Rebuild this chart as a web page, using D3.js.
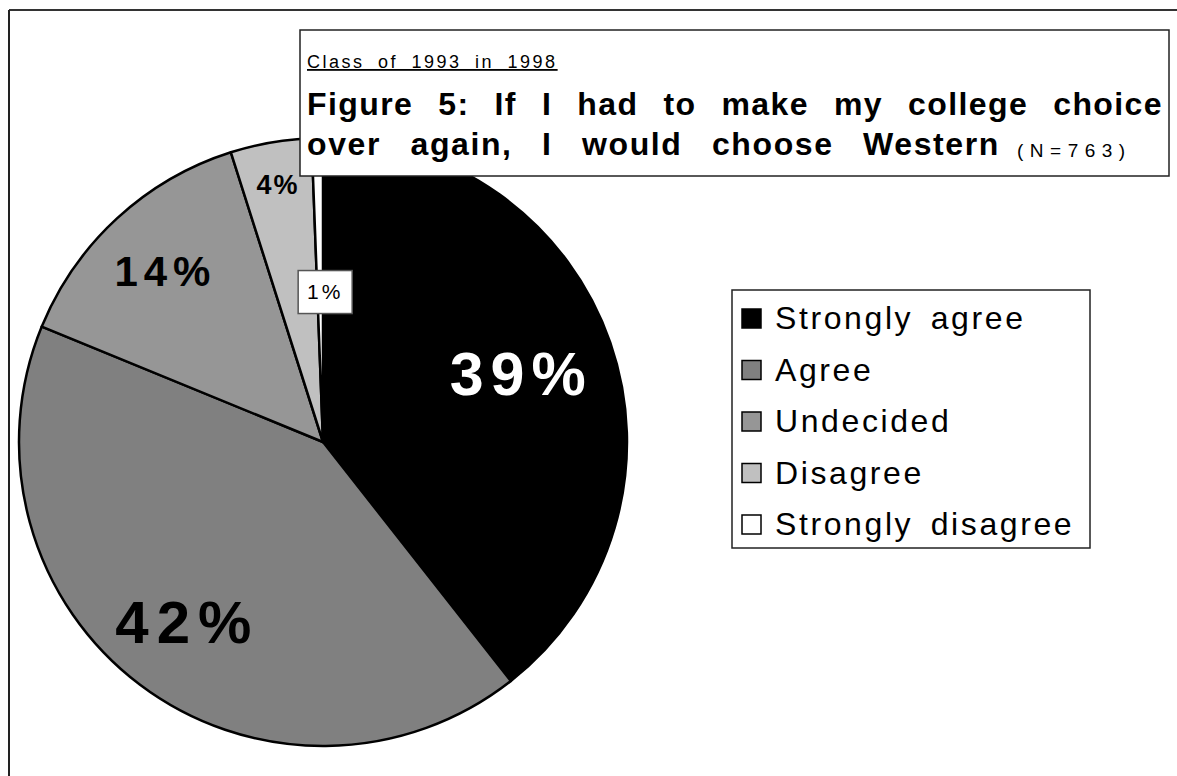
<!DOCTYPE html>
<html><head><meta charset="utf-8">
<script src="https://cdn.jsdelivr.net/npm/d3@7"></script>
<style>
html,body{margin:0;padding:0;background:#fff;}
svg{display:block;font-family:"Liberation Sans",Arial,Helvetica,sans-serif;}
</style></head>
<body>
<svg id="chart" width="1177" height="776"></svg>
<script>
// ---- data ----
const categories = ["Strongly agree", "Agree", "Undecided", "Disagree", "Strongly disagree"];
const values = [39.4, 41.8, 13.9, 4.3, 0.6];
const colors = ["#000000", "#808080", "#969696", "#c0c0c0", "#ffffff"];
const labels = ["39%", "42%", "14%", "4%", "1%"];
const subtitle = "Class of 1993 in 1998";
const titleLine1 = "Figure 5: If I had to make my college choice";
const titleLine2 = "over again, I would choose Western";
const titleNote = "(N=763)";

const svg = d3.select("#chart");

// outer frame (top and left visible)
svg.append("line").attr("x1", 9).attr("y1", 10).attr("x2", 1177).attr("y2", 10)
  .attr("stroke", "#333").attr("stroke-width", 2);
svg.append("line").attr("x1", 9).attr("y1", 10).attr("x2", 9).attr("y2", 776)
  .attr("stroke", "#222").attr("stroke-width", 2);

// pie
const cx = 323, cy = 442, R = 304;
const pie = d3.pie().sort(null).value(d => d)(values);
const arc = d3.arc().innerRadius(0).outerRadius(R);
const g = svg.append("g").attr("transform", `translate(${cx},${cy})`);
g.selectAll("path").data(pie).join("path")
  .attr("d", arc)
  .attr("fill", (d, i) => colors[i])
  .attr("stroke", "#000").attr("stroke-width", 2.5).attr("stroke-linejoin", "round");

// labels
const labelStyle = [
  {rf: 0.69, size: 61, ls: 7, fill: "#fff", weight: "bold"},
  {rf: 0.74, size: 60, ls: 8, fill: "#000", weight: "bold"},
  {rf: 0.765, size: 42, ls: 6, fill: "#000", weight: "bold"},
  {rf: 0.86, size: 27, ls: 2, fill: "#000", weight: "bold"},
  {rf: 0.495, size: 21, ls: 3, fill: "#000", weight: "normal", box: true}
];
pie.forEach((d, i) => {
  const st = labelStyle[i];
  const la = d3.arc().innerRadius(R * st.rf).outerRadius(R * st.rf);
  const [x, y] = la.centroid(d);
  const lg = g.append("g").attr("transform", `translate(${x + (st.box ? 5 : 0)},${y})`);
  lg.append("text")
    .attr("text-anchor", "middle")
    .attr("y", st.size * 0.36)
    .attr("font-size", st.size)
    .attr("font-weight", st.weight)
    .attr("letter-spacing", st.ls)
    .attr("fill", st.fill)
    .text(labels[i]);
  if (st.box) {
    lg.insert("rect", "text")
      .attr("x", -27).attr("y", -21).attr("width", 54).attr("height", 43)
      .attr("fill", "#fff").attr("stroke", "#555").attr("stroke-width", 1.5);
  }
});

// title box
const tb = svg.append("g");
tb.append("rect").attr("x", 300).attr("y", 30).attr("width", 869).attr("height", 146)
  .attr("fill", "#fff").attr("stroke", "#222").attr("stroke-width", 1.5);
tb.append("text").attr("x", 307).attr("y", 68).attr("font-size", 18)
  .attr("letter-spacing", 2.5).attr("word-spacing", 6)
  .attr("text-decoration", "underline").text(subtitle);

function justified(words, x0, x1, y, size) {
  const ws = words.map(w => tb.append("text").attr("y", y).attr("font-size", size)
    .attr("font-weight", "bold").attr("letter-spacing", 1.4).text(w));
  const widths = ws.map(s => s.node().getComputedTextLength());
  const total = d3.sum(widths);
  const gap = (x1 - x0 - total) / (words.length - 1);
  let x = x0;
  ws.forEach((s, i) => { s.attr("x", x); x += widths[i] + gap; });
}
justified(titleLine1.split(" "), 307, 1163, 115, 32);
tb.append("text").attr("x", 307).attr("y", 155).attr("font-size", 32)
  .attr("font-weight", "bold").attr("word-spacing", 19).attr("letter-spacing", 1.6).text(titleLine2);
tb.append("text").attr("x", 1017).attr("y", 157).attr("font-size", 19)
  .attr("letter-spacing", 6.5).text(titleNote);

// legend
const lgd = svg.append("g");
lgd.append("rect").attr("x", 732).attr("y", 290).attr("width", 358).attr("height", 258)
  .attr("fill", "#fff").attr("stroke", "#222").attr("stroke-width", 1.5);
const ly = d3.scalePoint().domain(categories).range([329, 535]);
categories.forEach((c, i) => {
  lgd.append("rect").attr("x", 742).attr("y", ly(c) - 20).attr("width", 19).attr("height", 19)
    .attr("fill", colors[i]).attr("stroke", "#000").attr("stroke-width", 1.5);
  lgd.append("text").attr("x", 775).attr("y", ly(c)).attr("font-size", 32)
    .attr("letter-spacing", 2.6).attr("word-spacing", 6).text(c);
});
</script>
</body></html>
